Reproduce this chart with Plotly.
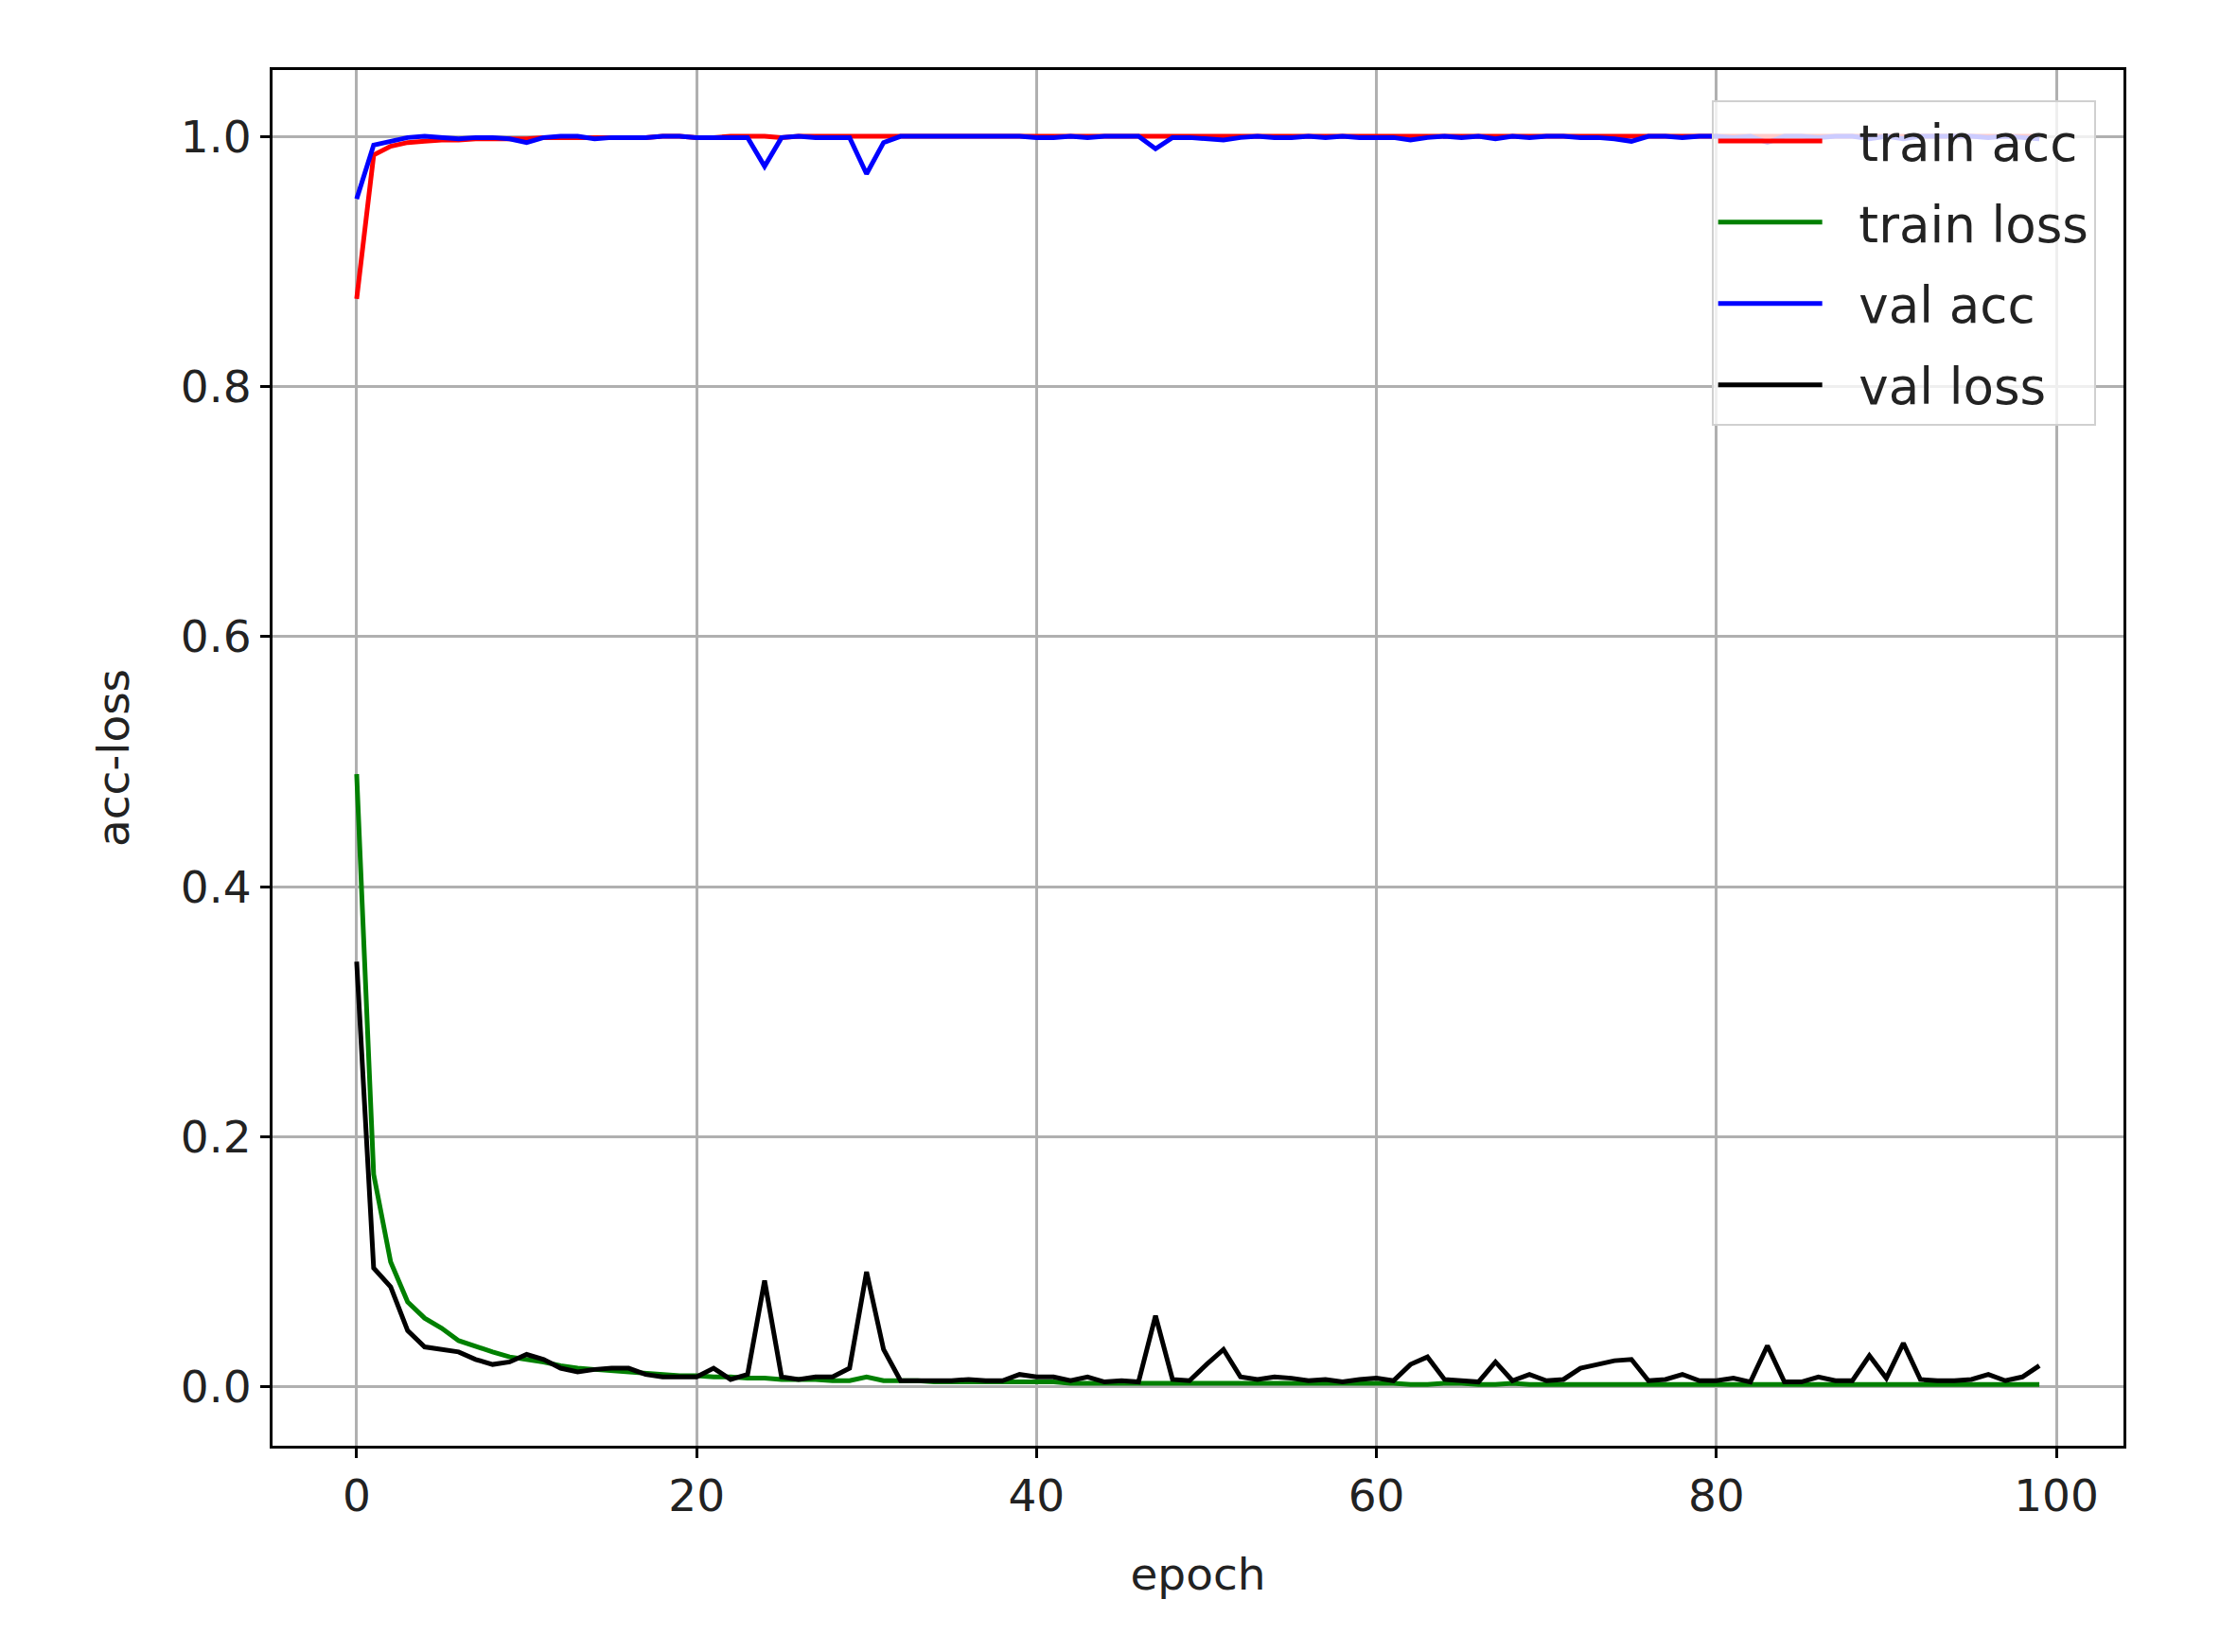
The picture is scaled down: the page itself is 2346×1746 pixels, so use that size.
import plotly.graph_objects as go

epochs = list(range(100))

train_acc = [0.87, 0.985, 0.992, 0.995, 0.996, 0.997, 0.997, 0.998, 0.998, 0.998,
             0.998, 0.999, 0.999, 0.999, 0.999, 0.999, 0.999, 0.999, 1.0, 1.0,
             0.999, 0.999, 1.0, 1.0, 1.0, 0.999, 1.0, 1.0, 1.0, 1.0,
             1.0, 1.0, 1.0, 1.0, 1.0, 1.0, 1.0, 1.0, 1.0, 1.0,
             1.0, 1.0, 1.0, 1.0, 1.0, 1.0, 1.0, 1.0, 1.0, 1.0,
             1.0, 1.0, 1.0, 1.0, 1.0, 1.0, 1.0, 1.0, 1.0, 1.0,
             1.0, 1.0, 1.0, 1.0, 1.0, 1.0, 1.0, 1.0, 1.0, 1.0,
             1.0, 1.0, 1.0, 1.0, 1.0, 1.0, 1.0, 1.0, 1.0, 1.0,
             1.0, 1.0, 1.0, 1.0, 1.0, 1.0, 1.0, 1.0, 1.0, 1.0,
             1.0, 1.0, 1.0, 1.0, 1.0, 1.0, 1.0, 1.0, 1.0, 1.0]

train_loss = [0.49, 0.17, 0.10, 0.068, 0.055, 0.047, 0.037, 0.032, 0.028, 0.024,
              0.022, 0.020, 0.017, 0.015, 0.014, 0.013, 0.012, 0.011, 0.010, 0.009,
              0.009, 0.008, 0.008, 0.007, 0.007, 0.006, 0.006, 0.006, 0.005, 0.005,
              0.008, 0.005, 0.005, 0.005, 0.004, 0.004, 0.004, 0.004, 0.004, 0.004,
              0.004, 0.004, 0.003, 0.003, 0.003, 0.003, 0.003, 0.003, 0.003, 0.003,
              0.003, 0.003, 0.003, 0.003, 0.003, 0.003, 0.003, 0.003, 0.003, 0.003,
              0.003, 0.003, 0.002, 0.002, 0.003, 0.003, 0.002, 0.002, 0.003, 0.002,
              0.002, 0.002, 0.002, 0.002, 0.002, 0.002, 0.002, 0.002, 0.002, 0.002,
              0.002, 0.002, 0.002, 0.002, 0.002, 0.002, 0.002, 0.002, 0.002, 0.002,
              0.002, 0.002, 0.002, 0.002, 0.002, 0.002, 0.002, 0.002, 0.002, 0.002]

val_acc = [0.95, 0.993, 0.996, 0.999, 1.0, 0.999, 0.998, 0.999, 0.999, 0.998,
           0.995, 0.999, 1.0, 1.0, 0.998, 0.999, 0.999, 0.999, 1.0, 1.0,
           0.999, 0.999, 0.999, 0.999, 0.976, 0.999, 1.0, 0.999, 0.999, 0.999,
           0.970, 0.995, 1.0, 1.0, 1.0, 1.0, 1.0, 1.0, 1.0, 1.0,
           0.999, 0.999, 1.0, 0.999, 1.0, 1.0, 1.0, 0.990, 0.999, 0.999,
           0.998, 0.997, 0.999, 1.0, 0.999, 0.999, 1.0, 0.999, 1.0, 0.999,
           0.999, 0.999, 0.997, 0.999, 1.0, 0.999, 1.0, 0.998, 1.0, 0.999,
           1.0, 1.0, 0.999, 0.999, 0.998, 0.996, 1.0, 1.0, 0.999, 1.0,
           1.0, 0.999, 1.0, 0.995, 1.0, 1.0, 0.999, 1.0, 1.0, 0.998,
           1.0, 0.998, 1.0, 1.0, 1.0, 1.0, 0.999, 1.0, 0.999, 0.998]

val_loss = [0.34, 0.095, 0.08, 0.045, 0.032, 0.030, 0.028, 0.022, 0.018, 0.020,
            0.026, 0.022, 0.015, 0.012, 0.014, 0.015, 0.015, 0.010, 0.008, 0.008,
            0.008, 0.015, 0.006, 0.010, 0.085, 0.008, 0.006, 0.008, 0.008, 0.015,
            0.092, 0.030, 0.005, 0.005, 0.005, 0.005, 0.006, 0.005, 0.005, 0.010,
            0.008, 0.008, 0.005, 0.008, 0.004, 0.005, 0.004, 0.057, 0.006, 0.005,
            0.018, 0.030, 0.008, 0.006, 0.008, 0.007, 0.005, 0.006, 0.004, 0.006,
            0.007, 0.005, 0.018, 0.024, 0.006, 0.005, 0.004, 0.020, 0.005, 0.010,
            0.005, 0.006, 0.015, 0.018, 0.021, 0.022, 0.005, 0.006, 0.010, 0.005,
            0.005, 0.007, 0.004, 0.033, 0.004, 0.004, 0.008, 0.005, 0.005, 0.025,
            0.007, 0.035, 0.006, 0.005, 0.005, 0.006, 0.010, 0.005, 0.008, 0.017]

series = [("train acc", train_acc, "red"),
          ("train loss", train_loss, "green"),
          ("val acc", val_acc, "blue"),
          ("val loss", val_loss, "black")]

fig = go.Figure()
for name, ys, color in series:
    fig.add_trace(go.Scatter(x=epochs, y=ys, mode="lines",
                             name="\u00a0\u00a0" + name, legendgroup=name,
                             line=dict(color=color, width=5)))

axis_common = dict(showline=True, linecolor="black", linewidth=3, mirror=True,
                   showgrid=True, gridcolor="#b0b0b0", gridwidth=2.5,
                   ticks="outside", ticklen=10, tickwidth=2.5, tickcolor="black",
                   zeroline=False, tickfont=dict(size=47, color="#222"))

fig.update_layout(
    width=2346, height=1746,
    paper_bgcolor="white", plot_bgcolor="white",
    font=dict(family="DejaVu Sans", color="#222"),
    margin=dict(l=280, r=110, t=66, b=226),
    xaxis=dict(range=[-4.95, 103.95], tickvals=[0, 20, 40, 60, 80, 100],
               title=dict(text="epoch", font=dict(size=47), standoff=40),
               **axis_common),
    yaxis=dict(range=[-0.047, 1.053], tickvals=[0, 0.2, 0.4, 0.6, 0.8, 1.0],
               tickformat=".1f",
               title=dict(text="acc-loss", font=dict(size=47), standoff=40),
               **axis_common),
    legend=dict(x=0.985, y=0.978, xanchor="right", yanchor="top",
                bgcolor="rgba(255,255,255,0.8)", bordercolor="#d0d0d0",
                borderwidth=2, font=dict(size=53), itemwidth=110,
                tracegroupgap=14),
    showlegend=True,
)

fig.write_html("out.html")
